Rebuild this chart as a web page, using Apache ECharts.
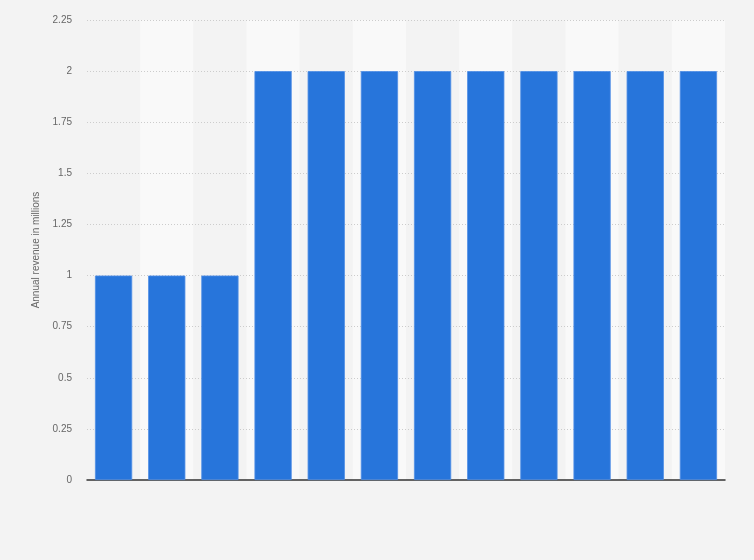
<!DOCTYPE html>
<html><head><meta charset="utf-8">
<script src="https://cdn.jsdelivr.net/npm/echarts@6/dist/echarts.min.js"></script>
<style>html,body{margin:0;padding:0;background:#f3f3f3;}#c{width:754px;height:560px;}</style>
</head><body><div id="c"></div>
<script>
var categories = ['1','2','3','4','5','6','7','8','9','10','11','12'];
var revenue = [1, 1, 1, 2, 2, 2, 2, 2, 2, 2, 2, 2];
var yTicks = [0, 0.25, 0.5, 0.75, 1, 1.25, 1.5, 1.75, 2, 2.25];
var chart = echarts.init(document.getElementById('c'));
chart.setOption({
  backgroundColor: '#f3f3f3',
  animation: false,
  grid: {left: 87, right: 29, top: 20, bottom: 80},
  xAxis: {
    type: 'category', data: categories, z: 0,
    axisLine: {lineStyle: {color: '#333', width: 1.5}},
    axisTick: {show: false}, axisLabel: {show: false},
    splitArea: {show: true, areaStyle: {color: ['#f3f3f3', '#f9f9f9']}}
  },
  yAxis: {
    type: 'value', min: 0, max: yTicks[yTicks.length-1], interval: 0.25, z: 1,
    name: 'Annual revenue in millions', nameLocation: 'middle', nameGap: 44,
    nameTextStyle: {color: '#666', fontSize: 10, fontFamily: 'Arial, Liberation Sans'},
    axisLine: {show: false}, axisTick: {show: false},
    axisLabel: {color: '#666', fontSize: 10, margin: 15, fontFamily: 'Arial, Liberation Sans'},
    splitLine: {showMinLine: false, lineStyle: {color: '#cccccc', type: [1, 2], width: 1}}
  },
  series: [{
    type: 'bar', data: revenue, barCategoryGap: '30%', z: 2,
    itemStyle: {color: '#2775db', borderColor: '#4f8ee6', borderWidth: 0.8}
  }]
});
</script></body></html>
